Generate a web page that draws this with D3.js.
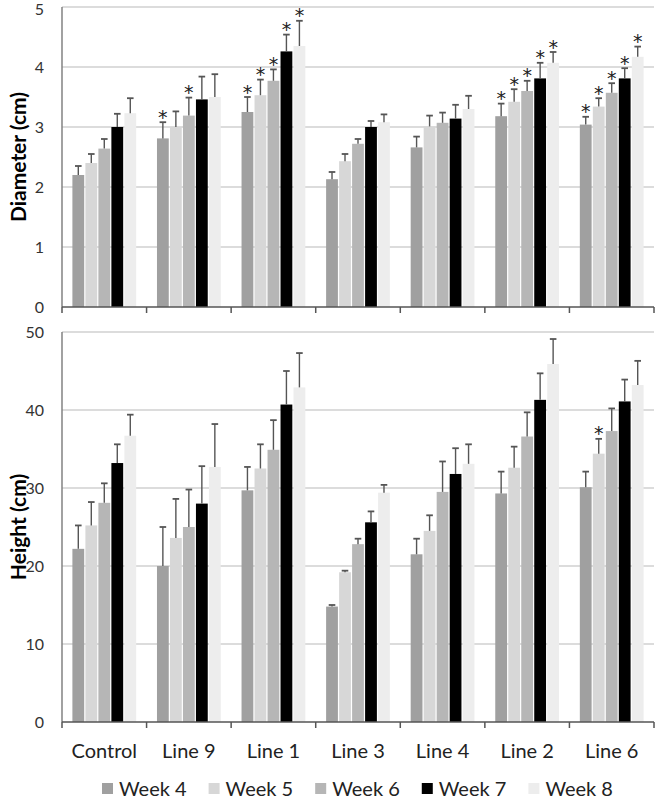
<!DOCTYPE html>
<html>
<head>
<meta charset="utf-8">
<script src="https://cdn.jsdelivr.net/npm/d3@7"></script>
<style>
  html, body { margin: 0; padding: 0; background: #fff; }
  svg { display: block; font-family: Lato, "Open Sans", sans-serif; }
</style>
</head>
<body>
<svg id="chart" width="659" height="802"></svg>
<script>
// ---------- data ----------
const categories = ["Control", "Line 9", "Line 1", "Line 3", "Line 4", "Line 2", "Line 6"];
const weeks = ["Week 4", "Week 5", "Week 6", "Week 7", "Week 8"];
const weekColors = ["#a0a0a0", "#d7d7d7", "#b6b6b6", "#000000", "#ededed"];

// Diameter (cm)
const diamW4 = [2.20, 2.81, 3.25, 2.13, 2.66, 3.18, 3.04];
const diamW5 = [2.40, 3.00, 3.53, 2.43, 3.01, 3.42, 3.34];
const diamW6 = [2.64, 3.19, 3.77, 2.72, 3.07, 3.60, 3.57];
const diamW7 = [3.00, 3.46, 4.26, 3.00, 3.14, 3.81, 3.81];
const diamW8 = [3.23, 3.50, 4.35, 3.08, 3.30, 4.07, 4.17];
const diamErrW4 = [0.15, 0.27, 0.25, 0.12, 0.18, 0.21, 0.13];
const diamErrW5 = [0.15, 0.26, 0.26, 0.12, 0.18, 0.21, 0.14];
const diamErrW6 = [0.16, 0.30, 0.19, 0.08, 0.17, 0.17, 0.16];
const diamErrW7 = [0.22, 0.38, 0.28, 0.10, 0.23, 0.26, 0.17];
const diamErrW8 = [0.25, 0.38, 0.42, 0.13, 0.22, 0.18, 0.17];
const diamSigW4 = [0, 1, 1, 0, 0, 1, 1];
const diamSigW5 = [0, 0, 1, 0, 0, 1, 1];
const diamSigW6 = [0, 1, 1, 0, 0, 1, 1];
const diamSigW7 = [0, 0, 1, 0, 0, 1, 1];
const diamSigW8 = [0, 0, 1, 0, 0, 1, 1];
const diamTicks = [0, 1, 2, 3, 4, 5];

// Height (cm)
const hW4 = [22.2, 20.0, 29.7, 14.8, 21.5, 29.3, 30.1];
const hW5 = [25.2, 23.6, 32.5, 19.2, 24.5, 32.6, 34.4];
const hW6 = [28.1, 25.0, 34.9, 22.8, 29.5, 36.6, 37.3];
const hW7 = [33.2, 28.0, 40.7, 25.6, 31.8, 41.3, 41.1];
const hW8 = [36.7, 32.7, 42.9, 29.4, 33.1, 45.9, 43.2];
const hErrW4 = [3.0, 5.0, 3.0, 0.2, 2.0, 2.8, 2.0];
const hErrW5 = [3.0, 5.0, 3.1, 0.2, 2.0, 2.7, 1.9];
const hErrW6 = [2.5, 4.8, 3.8, 0.7, 3.9, 3.1, 2.9];
const hErrW7 = [2.4, 4.8, 4.3, 1.4, 3.3, 3.4, 2.8];
const hErrW8 = [2.7, 5.5, 4.4, 1.0, 2.5, 3.2, 3.1];
const hSigW4 = [0, 0, 0, 0, 0, 0, 0];
const hSigW5 = [0, 0, 0, 0, 0, 0, 1];
const hSigW6 = [0, 0, 0, 0, 0, 0, 0];
const hSigW7 = [0, 0, 0, 0, 0, 0, 0];
const hSigW8 = [0, 0, 0, 0, 0, 0, 0];
const heightTicks = [0, 10, 20, 30, 40, 50];

// ---------- build ----------
function rows(vals, errs, sigs) {
  const out = [];
  categories.forEach((c, i) => {
    weeks.forEach((w, j) => {
      out.push({ cat: c, week: w, wi: j, v: vals[j][i], e: errs[j][i], s: sigs[j][i] });
    });
  });
  return out;
}
const diamData = rows([diamW4, diamW5, diamW6, diamW7, diamW8],
                      [diamErrW4, diamErrW5, diamErrW6, diamErrW7, diamErrW8],
                      [diamSigW4, diamSigW5, diamSigW6, diamSigW7, diamSigW8]);
const heightData = rows([hW4, hW5, hW6, hW7, hW8],
                        [hErrW4, hErrW5, hErrW6, hErrW7, hErrW8],
                        [hSigW4, hSigW5, hSigW6, hSigW7, hSigW8]);

const svg = d3.select("#chart");
const left = 62, right = 654;
const x0 = d3.scaleBand().domain(categories).range([left, right]).paddingInner(0).paddingOuter(0);
const groupPad = 9.8;
const x1 = d3.scaleBand().domain(weeks).range([groupPad, x0.bandwidth() - groupPad]).padding(0);
const color = d3.scaleOrdinal().domain(weeks).range(weekColors);

function panel(data, yDomain, yRange, ticks, title, titleY) {
  const y = d3.scaleLinear().domain(yDomain).range(yRange);
  const g = svg.append("g");

  // gridlines
  g.append("g").selectAll("line").data(ticks.filter(t => t > 0)).join("line")
    .attr("x1", left).attr("x2", right)
    .attr("y1", d => y(d)).attr("y2", d => y(d))
    .attr("stroke", "#d0d0d0").attr("stroke-width", 1.4);

  // y axis labels
  g.append("g").selectAll("text").data(ticks).join("text")
    .attr("x", 44).attr("y", d => Math.max(y(d), 9)).attr("dy", "0.36em")
    .attr("text-anchor", "end").attr("font-size", 16).attr("fill", "#333")
    .text(d => d);

  // bars
  g.append("g").selectAll("rect").data(data).join("rect")
    .attr("x", d => x0(d.cat) + x1(d.week) + 0.6)
    .attr("width", x1.bandwidth() - 1.2)
    .attr("y", d => y(d.v))
    .attr("height", d => y(0) - y(d.v))
    .attr("fill", d => color(d.week));

  // error bars
  const eb = g.append("g").attr("stroke", "#555");
  eb.selectAll("line.stem").data(data).join("line").attr("class", "stem")
    .attr("x1", d => x0(d.cat) + x1(d.week) + x1.bandwidth() / 2)
    .attr("x2", d => x0(d.cat) + x1(d.week) + x1.bandwidth() / 2)
    .attr("y1", d => y(d.v)).attr("y2", d => y(d.v + d.e))
    .attr("stroke-width", 1.4);
  eb.selectAll("line.cap").data(data).join("line").attr("class", "cap")
    .attr("x1", d => x0(d.cat) + x1(d.week) + x1.bandwidth() / 2 - 3.3)
    .attr("x2", d => x0(d.cat) + x1(d.week) + x1.bandwidth() / 2 + 3.3)
    .attr("y1", d => y(d.v + d.e)).attr("y2", d => y(d.v + d.e))
    .attr("stroke-width", 1.8);

  // significance stars
  g.append("g").selectAll("text").data(data.filter(d => d.s)).join("text")
    .attr("x", d => x0(d.cat) + x1(d.week) + x1.bandwidth() / 2)
    .attr("y", d => y(d.v + d.e) + 1.5)
    .attr("text-anchor", "middle").attr("font-size", 19).attr("fill", "#222")
    .attr("font-family", "DejaVu Sans")
    .text("*");

  // y axis line
  g.append("line").attr("x1", left).attr("x2", left)
    .attr("y1", yRange[1]).attr("y2", yRange[0])
    .attr("stroke", "#7a7a7a").attr("stroke-width", 1.4);

  // x axis line + ticks at category boundaries
  const bounds = categories.map(c => x0(c)).concat([right]);
  g.append("line").attr("x1", left).attr("x2", right)
    .attr("y1", y(0)).attr("y2", y(0))
    .attr("stroke", "#555").attr("stroke-width", 1.5);
  g.append("g").selectAll("line").data(bounds).join("line")
    .attr("x1", d => d).attr("x2", d => d)
    .attr("y1", y(0)).attr("y2", y(0) + 6)
    .attr("stroke", "#555").attr("stroke-width", 1.5);

  // y title
  g.append("text")
    .attr("transform", `translate(26,${titleY}) rotate(-90)`)
    .attr("text-anchor", "middle").attr("font-size", 21).attr("font-weight", "bold")
    .attr("fill", "#000")
    .text(title);
  return y;
}

panel(diamData, [0, 5], [307, 7], diamTicks, "Diameter (cm)", 157);
panel(heightData, [0, 50], [722, 332], heightTicks, "Height (cm)", 527);

// category labels
svg.append("g").selectAll("text").data(categories).join("text")
  .attr("x", d => x0(d) + x0.bandwidth() / 2)
  .attr("y", 758)
  .attr("text-anchor", "middle").attr("font-size", 20).attr("fill", "#222")
  .text(d => d);

// legend
const legend = svg.append("g");
let lx = 102;
weeks.forEach((w, i) => {
  const item = legend.append("g").attr("transform", `translate(${lx},0)`);
  item.append("rect").attr("x", 0).attr("y", 783).attr("width", 11).attr("height", 11)
    .attr("fill", color(w));
  const t = item.append("text").attr("x", 17).attr("y", 796)
    .attr("font-size", 20).attr("fill", "#222").text(w);
  lx += 17 + t.node().getComputedTextLength() + 22;
});
</script>
</body>
</html>
